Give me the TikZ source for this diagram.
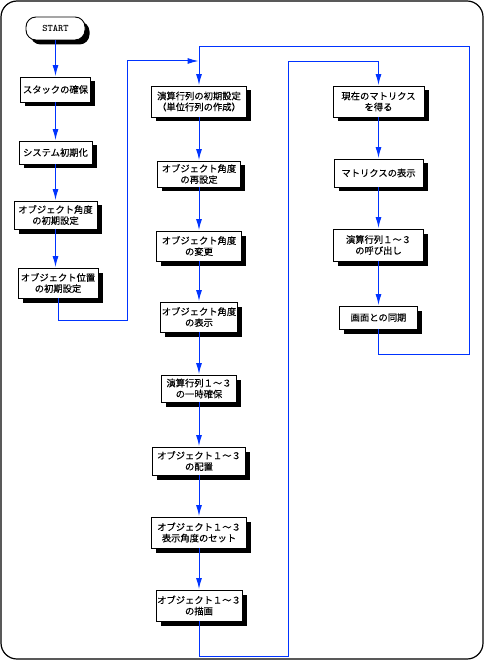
\documentclass[tikz,border=0pt]{standalone}
\usepackage{fontspec}
\newfontfamily\jpfont[FakeBold=0.2]{Noto Sans CJK JP}
\usetikzlibrary{arrows.meta,shadows}
\definecolor{flowblue}{HTML}{0033FF}

\begin{document}
\begin{tikzpicture}[x=1pt,y=-1pt,
    box/.style={draw,fill=white,line width=0.9pt,align=center,inner sep=0pt,
      font=\jpfont\fontsize{9.3}{11}\selectfont,
      general shadow={fill=black,shadow xshift=4.5pt,shadow yshift=-4.5pt}},
    flow/.style={draw=flowblue,line width=1pt},
    tip/.style={flow,-{Latex[length=11pt,width=6pt]},shorten >=0.5pt}]
  \useasboundingbox (0,0) rectangle (484,660);
  \draw[line width=1.2pt,rounded corners=16pt] (1,1) rectangle (483,659);
  \node[box,rounded corners=10pt,minimum width=59pt,minimum height=23pt,
    font=\ttfamily\bfseries\fontsize{10}{12}\selectfont] (start) at (55.5,28.5) {START};
  \foreach \n/\x/\y/\w/\h/\t in {
      stack/55.5/89.5/70/25/{スタックの確保},
      sysinit/55.5/152.5/73/23/{システム初期化},
      angini/55.5/215/83/28/{オブジェクト角度\\の初期設定},
      posini/58/283/80/30/{オブジェクト位置\\の初期設定},
      init/199/101.5/95/31/{演算行列の初期設定\\（単位行列の作成）},
      reset/199/174/83/26/{オブジェクト角度\\の再設定},
      change/199/246/85/30/{オブジェクト角度\\の変更},
      show/199/317/77/30/{オブジェクト角度\\の表示},
      keep/199/388.5/75/27/{演算行列１～３\\の一時確保},
      place/199/461/93/28/{オブジェクト１～３\\の配置},
      setang/199/532.5/95/31/{オブジェクト１～３\\表示角度のセット},
      render/199/605.5/86/31/{オブジェクト１～３\\の描画},
      cur/378.5/101.5/91/31/{現在のマトリクス\\を得る},
      mshow/378.5/173/89/28/{マトリクスの表示},
      call/378.5/245/90/32/{演算行列１～３\\の呼び出し},
      sync/378.5/317.5/78/23/{画面との同期}}
    {\node[box,minimum width=\w pt,minimum height=\h pt] (\n) at (\x,\y) {\t};}
  \foreach \a/\b in {start/stack,stack/sysinit,sysinit/angini,angini/posini,
      init/reset,reset/change,change/show,show/keep,keep/place,place/setang,
      setang/render,cur/mshow,mshow/call,call/sync}
    {\draw[tip] (\a) -- (\a |- \b.north);}
  \coordinate (merge) at (199,61);
  \draw[tip] (posini.south) -- ++(0,22) -| (127,61) -- (merge);
  \draw[tip] (sync.south) -- ++(0,25.5) -| (469,47) -| (init);
  \draw[tip] (render.south) -- ++(0,35.5) -| (288,62) -| (cur);
\end{tikzpicture}
\end{document}
